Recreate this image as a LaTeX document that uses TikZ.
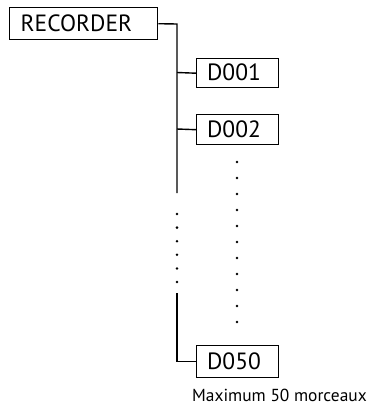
\documentclass[tikz,border=0pt]{standalone}
\usepackage{fontspec}
\setmainfont{PT Sans}
\begin{document}
\begin{tikzpicture}[x=1pt,y=-1pt,
  box/.style={draw,line width=1.4pt,inner sep=0pt,anchor=north west},
  lbl/.style={font=\fontsize{23.5}{25}\selectfont,inner sep=0pt},
  conn/.style={line width=1.4pt},
  dot/.style={circle,fill,inner sep=0pt,minimum size=2.8pt}]
\useasboundingbox (0,0) rectangle (379,405);
\node[box,minimum width=148pt,minimum height=32pt] (rec) at (9,7) {};
\node[lbl,anchor=west] (rect) at (20.5,23.5) {RECORDER};
\node[box,minimum width=82pt,minimum height=29pt] (d1) at (196,58) {};
\node[lbl] (t1) at (234,72.5) {D001};
\node[box,minimum width=82pt,minimum height=30pt] (d2) at (196,114) {};
\node[lbl] (t2) at (234,129) {D002};
\node[box,minimum width=82pt,minimum height=32pt] (d50) at (196,345) {};
\node[lbl] (t50) at (234,361) {D050};
\coordinate (top) at (177,24);
\coordinate (b1) at (177,193);
\coordinate (b2) at (177,293);
\draw[conn] (rec.east) -- (top) -- (b1);
\draw[conn] (b2) |- (d50.west);
\draw[conn] (177,72.5) -- (d1.west);
\draw[conn] (177,129) -- (d2.west);
\foreach \i in {0,...,5} \node[dot] at (177,214+13.6*\i) {};
\foreach \i in {0,...,10} \node[dot] at (237,162+16*\i) {};
\node[anchor=west,font=\fontsize{17.4}{20}\selectfont,inner sep=0pt] (lab) at (192,395) {Maximum 50 morceaux};
\end{tikzpicture}
\end{document}
